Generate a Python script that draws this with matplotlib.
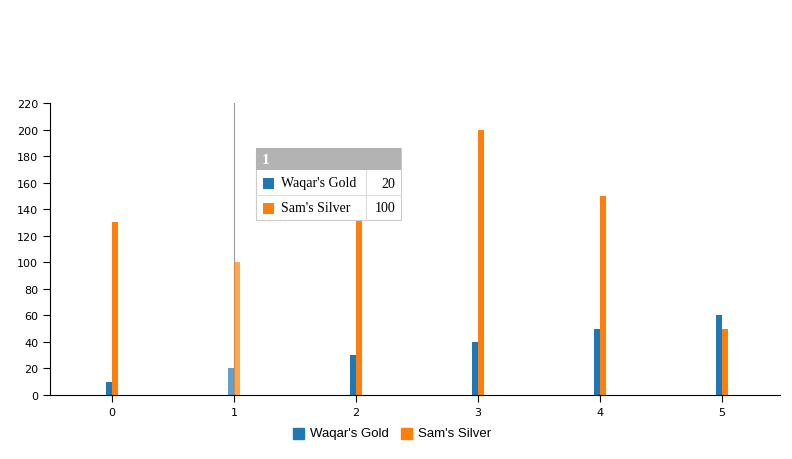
import matplotlib
matplotlib.use("Agg")
import matplotlib.pyplot as plt
from matplotlib.patches import Rectangle
import numpy as np

categories = [0, 1, 2, 3, 4, 5]
gold = [10, 20, 30, 40, 50, 60]
silver = [130, 100, 140, 200, 150, 50]
series_names = ["Waqar's Gold", "Sam's Silver"]
colors = ["#1f77b4", "#ff7f0e"]
hover = 1

W, H = 792, 460
fig = plt.figure(figsize=(W/100, H/100), dpi=100)
ax = fig.add_axes([50/W, 64/H, 730/W, 292/H])
x = np.array(categories)
bw = 0.05
for i, (g, s) in enumerate(zip(gold, silver)):
    a = 0.7 if categories[i] == hover else 1.0
    ax.bar(x[i] - bw/2, g, bw, color=colors[0], alpha=a)
    ax.bar(x[i] + bw/2, s, bw, color=colors[1], alpha=a)
ax.axvline(hover, color="#999999", lw=0.8, zorder=0)
ax.set_xlim(-0.508, 5.475)
ax.set_ylim(0, 220)
ax.set_yticks(range(0, 221, 20))
ax.set_xticks(categories)
for s in ["top", "right"]:
    ax.spines[s].set_visible(False)
ax.tick_params(labelsize=8, length=5, direction="out")

# legend
fig.text(0, 0, "")
lx = 293
for name, c, off in zip(series_names, colors, [0, 108]):
    fig.patches.append(Rectangle(((lx+off)/W, (H-440)/H), 11/W, 11/H, color=c, transform=fig.transFigure))
    fig.text((lx+off+17)/W, (H-434)/H, name, fontsize=9.5, va="center", family="Liberation Sans")

# tooltip
tx0, tx1, ty0, ty1 = 256, 401, 149, 221
def R(x0, y0, x1, y1, **kw):
    fig.patches.append(Rectangle((x0/W, (H-y1)/H), (x1-x0)/W, (y1-y0)/H, transform=fig.transFigure, **kw))
R(tx0, ty0, tx1, ty1, facecolor="white", edgecolor="#cccccc", lw=0.8, zorder=5)
R(tx0, ty0, tx1, 171, facecolor="#b3b3b3", edgecolor="none", zorder=6)
fig.text(262/W, (H-160)/H, str(hover), color="white", fontweight="bold", fontsize=11, va="center", family="Liberation Serif", zorder=7)
fig.lines.append(plt.Line2D([tx0/W, tx1/W], [(H-196)/H]*2, color="#dddddd", lw=0.8, transform=fig.transFigure, zorder=7))
fig.lines.append(plt.Line2D([366/W]*2, [(H-221)/H, (H-171)/H], color="#dddddd", lw=0.8, transform=fig.transFigure, zorder=7))
vals = [gold[hover], silver[hover]]
for k, (name, c, v) in enumerate(zip(series_names, colors, vals)):
    yc = 184 + 25*k
    R(263, yc-5, 274, yc+6, facecolor=c, edgecolor="none", zorder=7)
    fig.text(281/W, (H-yc)/H, name, fontsize=10, va="center", family="Liberation Serif", zorder=7)
    fig.text(395/W, (H-yc)/H, str(v), fontsize=10, va="center", ha="right", family="Liberation Serif", zorder=7)

fig.savefig("out.png", dpi=100)
